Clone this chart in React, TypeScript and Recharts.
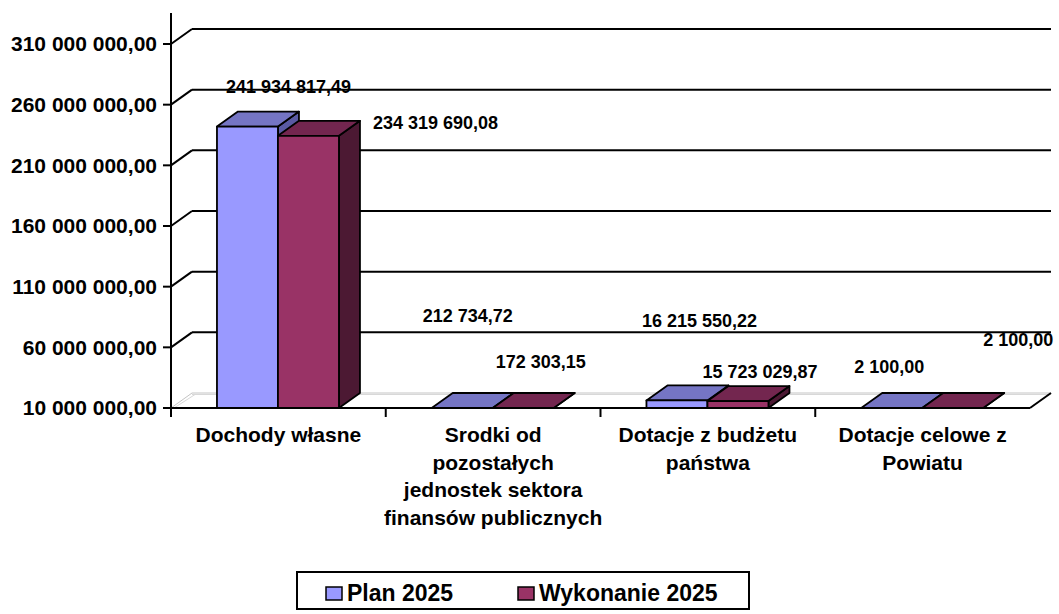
import { BarChart, Bar, XAxis, YAxis, CartesianGrid, LabelList } from 'recharts';

// categories (line breaks as in the original axis labels)
const categories = [
  'Dochody własne',
  'Srodki od\npozostałych\njednostek sektora\nfinansów publicznych',
  'Dotacje z budżetu\npaństwa',
  'Dotacje celowe z\nPowiatu',
];
const planValues = [241934817.49, 212734.72, 16215550.22, 2100.0];
const wykonanieValues = [234319690.08, 172303.15, 15723029.87, 2100.0];
const yTicks = [10000000, 60000000, 110000000, 160000000, 210000000, 260000000, 310000000];
const seriesNames = ['Plan 2025', 'Wykonanie 2025'];

// label nudges relative to the bar top (Excel 3D labels sit oddly)
const planLabelShift = [[41, -34], [5.5, -86], [22.5, -73], [-2.5, -35]];
const wykLabelShift = [[127, -7], [17.5, -40], [22, -23], [65.5, -62]];

const data = categories.map((name, i) => ({
  name,
  plan: planValues[i],
  wykonanie: wykonanieValues[i],
}));

const W = 1059;
const H = 614;
const PLOT_TOP = 13;
const PLOT_BOTTOM = 408;
const PLOT_LEFT = 171;
const PLOT_RIGHT = 1030;
const DX = 21;
const DY = 15;
const Y_MIN = 10000000;
const Y_MAX = 335550000;
const FONT = '"Liberation Sans", Arial, sans-serif';

const fmt = (v: number) => {
  const [int, dec] = Math.abs(v).toFixed(2).split('.');
  return int.replace(/\B(?=(\d{3})+(?!\d))/g, ' ') + ',' + dec;
};

const make3DBar = (front: string, topC: string, sideC: string) => (props: any) => {
  const { x, y, width, height } = props;
  const top = Math.min(y, y + height, PLOT_BOTTOM);
  const bottom = PLOT_BOTTOM;
  const r = x + width;
  return (
    <g stroke="#000" strokeWidth={1.8} strokeLinejoin="round">
      <polygon points={`${r},${top} ${r + DX},${top - DY} ${r + DX},${bottom - DY} ${r},${bottom}`} fill={sideC} />
      <polygon points={`${x},${top} ${x + DX},${top - DY} ${r + DX},${top - DY} ${r},${top}`} fill={topC} />
      {bottom - top > 0.5 && <rect x={x} y={top} width={width} height={bottom - top} fill={front} />}
    </g>
  );
};

const makeLabel = (shift: number[][]) => (props: any) => {
  const vb = props.viewBox ?? props;
  const { x, y, width, height } = vb;
  const top = Math.min(y, y + height, PLOT_BOTTOM);
  const [dx, dy] = shift[props.index] ?? [0, 0];
  return (
    <text x={x + width / 2 + dx} y={top + dy} textAnchor="middle" fill="#000"
      fontSize={18} fontWeight="bold" fontFamily={FONT}>
      {fmt(Number(props.value))}
    </text>
  );
};

const GridLine = (p: any) => {
  const { x1, x2, y1 } = p;
  if (Math.abs(y1 - PLOT_TOP) < 1) return <g key={p.key} />;
  if (Math.abs(y1 - PLOT_BOTTOM) < 1) {
    // floor of the 3D box
    return (
      <g key={p.key}>
        <line x1={x1} y1={y1} x2={x1 + DX} y2={y1 - DY} stroke="#c4c4c4" />
        <line x1={x1 + 3} y1={y1} x2={x1 + DX + 3} y2={y1 - DY + 1.5} stroke="#d8d8d8" />
        <line x1={x1 + DX} y1={y1 - DY} x2={x2 + DX} y2={y1 - DY} stroke="#c4c4c4" />
        <line x1={x1 + DX} y1={y1 - DY + 1.5} x2={x2 + DX} y2={y1 - DY + 1.5} stroke="#d8d8d8" />
        <line x1={x2} y1={y1} x2={x2 + DX} y2={y1 - DY} stroke="#000" strokeWidth={2} />
      </g>
    );
  }
  return (
    <g key={p.key}>
      <line x1={x1} y1={y1} x2={x1 + DX} y2={y1 - DY} stroke="#000" strokeWidth={2} />
      <line x1={x1 + DX} y1={y1 - DY} x2={x2 + DX} y2={y1 - DY} stroke="#000" strokeWidth={2} />
    </g>
  );
};

const CategoryTick = (props: any) => {
  const { x, payload } = props;
  const lines = String(payload.value).split('\n');
  const bw = (PLOT_RIGHT - PLOT_LEFT) / categories.length;
  const left = x - bw / 2;
  return (
    <g>
      <line x1={left} y1={PLOT_BOTTOM} x2={left} y2={PLOT_BOTTOM + 9} stroke="#000" strokeWidth={2} />
      <text x={x} y={PLOT_BOTTOM + 34} textAnchor="middle" fill="#000" fontSize={21}
        fontWeight="bold" fontFamily={FONT}>
        {lines.map((l, i) => (
          <tspan key={i} x={x} dy={i === 0 ? 0 : 27.5}>{l}</tspan>
        ))}
      </text>
    </g>
  );
};

const legendColors = ['#9999FF', '#993366'];
const legendX = [326, 518];

export default function App() {
  return (
    <div style={{ position: 'absolute', left: 0, top: 0, width: W, height: H, background: '#fff' }}>
      <BarChart
        width={W}
        height={H}
        data={data}
        margin={{ top: PLOT_TOP, right: W - PLOT_RIGHT, bottom: H - PLOT_BOTTOM - 150, left: 0 }}
        barCategoryGap="21.4%"
        barGap={0}
      >
        <CartesianGrid vertical={false} horizontal={GridLine} />
        <XAxis
          dataKey="name"
          height={150}
          interval={0}
          axisLine={{ stroke: '#000', strokeWidth: 2 }}
          tickLine={false}
          tick={<CategoryTick />}
        />
        <YAxis
          width={PLOT_LEFT}
          domain={[Y_MIN, Y_MAX]}
          ticks={yTicks}
          allowDataOverflow
          interval={0}
          tickFormatter={fmt}
          axisLine={{ stroke: '#000', strokeWidth: 2 }}
          tickLine={{ stroke: '#000', strokeWidth: 2 }}
          tickSize={8}
          tickMargin={6}
          tick={{ fill: '#000', fontSize: 21, fontWeight: 'bold', fontFamily: FONT }}
        />
        <Bar dataKey="plan" name={seriesNames[0]} fill="#9999FF" isAnimationActive={false}
          shape={make3DBar('#9999FF', '#7575C4', '#5A5AA3')}>
          <LabelList dataKey="plan" content={makeLabel(planLabelShift)} />
        </Bar>
        <Bar dataKey="wykonanie" name={seriesNames[1]} fill="#993366" isAnimationActive={false}
          shape={make3DBar('#993366', '#73264F', '#4C1933')}>
          <LabelList dataKey="wykonanie" content={makeLabel(wykLabelShift)} />
        </Bar>
      </BarChart>
      <svg width={W} height={H} style={{ position: 'absolute', left: 0, top: 0, pointerEvents: 'none' }}>
        <rect x={297} y={572} width={452} height={37} fill="#fff" stroke="#000" strokeWidth={2} />
        {seriesNames.map((s, i) => (
          <g key={s}>
            <rect x={legendX[i]} y={587} width={16} height={13} fill={legendColors[i]} stroke="#000" strokeWidth={1.5} />
            <text x={legendX[i] + 21} y={601} fontSize={23} fontWeight="bold" fontFamily={FONT} fill="#000">{s}</text>
          </g>
        ))}
      </svg>
    </div>
  );
}
